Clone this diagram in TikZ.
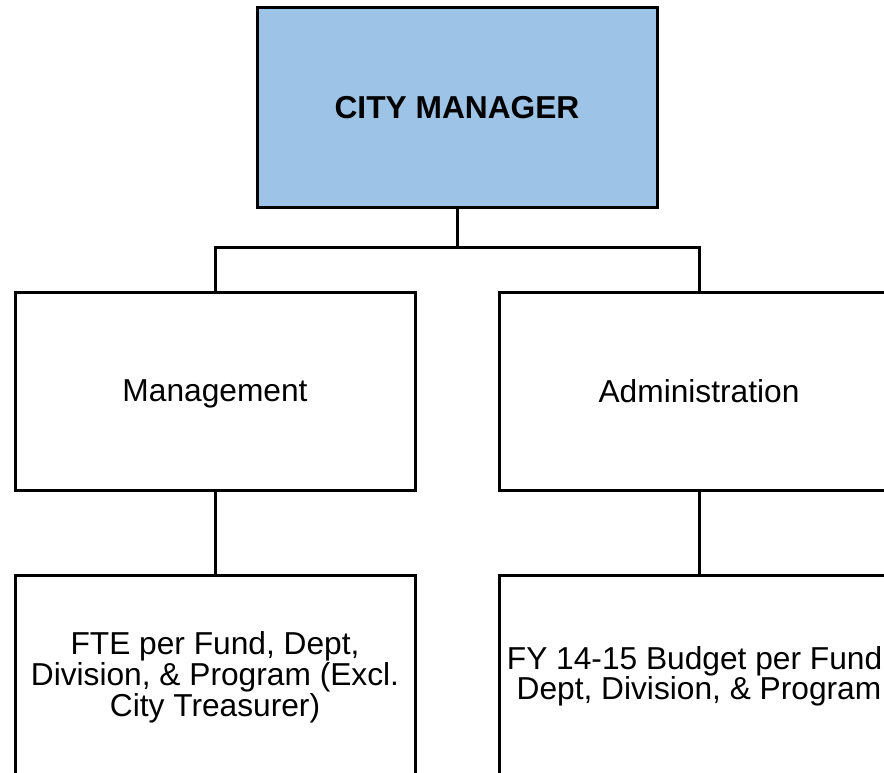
\documentclass[tikz,border=0pt]{standalone}
\usepackage{fontspec}
\setmainfont{Liberation Sans}
\definecolor{cmblue}{HTML}{9DC3E6}
\begin{document}
\begin{tikzpicture}[x=1pt,y=-1pt,
  orgbox/.style={draw=black, line width=3pt, minimum width=400pt, inner sep=0pt, align=center,
    text depth=0pt, font=\fontsize{31.7}{29.5}\selectfont},
  conn/.style={draw=black, line width=3pt}]
\useasboundingbox (0,0) rectangle (884,772);
\fill[white] (0,0) rectangle (884,772);
\clip (0,0) rectangle (884,772);
\node[orgbox, fill=cmblue, minimum height=200pt, font=\fontsize{31.7}{29.5}\selectfont\bfseries] (cm) at (457,107) {CITY MANAGER};
\node[orgbox, minimum height=198pt] (mgmt) at (215,391) {Management};
\node[orgbox, minimum height=198pt] (admin) at (699,391) {Administration};
\node[orgbox, minimum height=202pt, text depth=4pt] (fte) at (215,676) {FTE per Fund, Dept,\\Division, \& Program (Excl.\\City Treasurer)};
\node[orgbox, minimum height=202pt, text depth=6pt, font=\fontsize{31.7}{28}\selectfont] (budget) at (699,676) {FY 14-15 Budget per Fund,\\ Dept, Division, \& Program};
\coordinate (bus) at (457,247);
\draw[conn] (cm.south) -- (bus);
\draw[conn] (mgmt.north) |- (bus) -| (admin.north);
\draw[conn] (mgmt.south) -- (fte.north);
\draw[conn] (admin.south) -- (budget.north);
\end{tikzpicture}
\end{document}
